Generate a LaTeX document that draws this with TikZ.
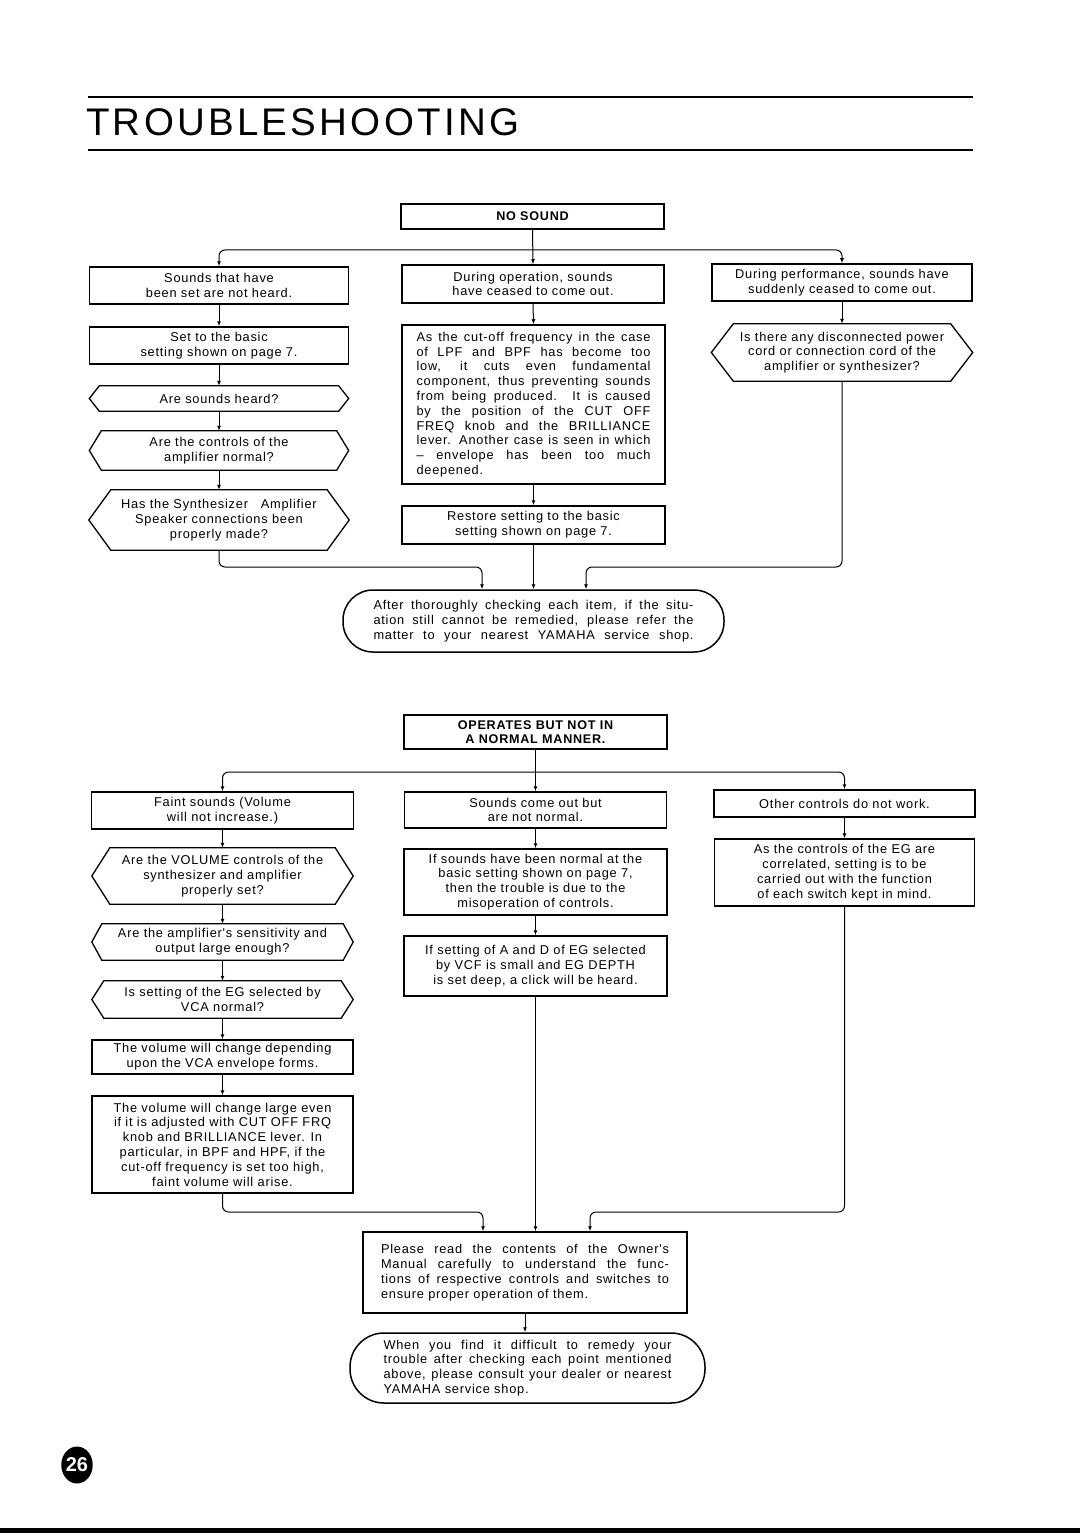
\documentclass[tikz,border=0pt]{standalone}
\usepackage{fontspec}
\setmainfont{Liberation Sans}
\newfontfamily\txtfont[LetterSpace=6]{Liberation Sans}
\newfontfamily\ttlfont[LetterSpace=8.5]{Liberation Sans}
\usetikzlibrary{arrows.meta,shapes.geometric}
\newcommand\jl[2]{\makebox[#1pt][s]{#2}}
\newcommand\hexdraw[2]{\draw[hexline] (#1.north west) -- (#1.north east) -- ([xshift=#2pt]#1.east) -- (#1.south east) -- (#1.south west) -- ([xshift=-#2pt]#1.west) -- cycle;}
\tikzset{
  x=1pt, y=-1pt,
  txt/.style={inner sep=0pt, align=center, font=\txtfont\fontsize{12.8}{14.8}\selectfont},
  bx/.style={txt, draw, line width=1.5pt},
  hq/.style={txt},
  hexline/.style={line width=1.3pt, line join=miter},
  conn/.style={line width=1pt, rounded corners=6pt},
  arr/.style={conn, -{Latex[length=5pt,width=4pt]}},
  term/.style={txt, draw, line width=1.5pt, rounded corners=30pt, align=left},
  ttl/.style={inner sep=0pt, font=\txtfont\bfseries\fontsize{12.6}{14}\selectfont, align=center},
}
\begin{document}
\begin{tikzpicture}
\fill[white] (0,0) rectangle (1080,1538);
\useasboundingbox (0,0) rectangle (1080,1538);

% title
\draw[line width=1.2pt] (88,97) -- (973,97);
\draw[line width=1.2pt] (88,150) -- (973,150);
\node[anchor=base west, inner sep=0pt, font=\ttlfont\fontsize{38.5}{40}\selectfont] (title) at (86,136) {TROUBLESHOOTING};

% ---------- NO SOUND ----------
\node[bx, ttl, draw, line width=1.8pt, minimum width=263pt, minimum height=25pt] (ns) at (532.5,216.5) {NO SOUND};
\node[bx, minimum width=259pt, minimum height=37pt] (a1) at (219,285.5) {Sounds that have\\been set are not heard.};
\node[bx, minimum width=262pt, minimum height=38pt] (b1) at (533,284) {During operation, sounds\\have ceased to come out.};
\node[bx, minimum width=260pt, minimum height=37pt] (c1) at (842,282.5) {During performance, sounds have\\suddenly ceased to come out.};
\node[bx, minimum width=259pt, minimum height=37pt] (a2) at (219,345.5) {Set to the basic\\setting shown on page 7.};
\node[hq, minimum width=239pt, minimum height=25pt] (a3) at (219,398.5) {Are sounds heard?};
\hexdraw{a3}{10}
\node[hq, minimum width=235pt, minimum height=39pt] (a4) at (219,450.5) {Are the controls of the\\amplifier normal?};
\hexdraw{a4}{12}
\node[hq, minimum width=216pt, minimum height=60pt] (a5) at (219,520) {Has the Synthesizer\quad Amplifier\\Speaker connections been\\properly made?};
\hexdraw{a5}{22}
\node[bx, align=left, minimum width=263pt, minimum height=159pt] (b2) at (533.5,404.5) {%
\jl{234}{As the cut-off frequency in the case}\\
\jl{234}{of LPF and BPF has become too}\\
\jl{234}{low, it cuts even fundamental}\\
\jl{234}{component, thus preventing sounds}\\
\jl{234}{from being produced. It is caused}\\
\jl{234}{by the position of the CUT OFF}\\
\jl{234}{FREQ knob and the BRILLIANCE}\\
\jl{234}{lever. Another case is seen in which}\\
\jl{234}{\textendash\ envelope has been too much}\\
deepened.};
\node[bx, minimum width=263pt, minimum height=38pt] (b3) at (533.5,525) {Restore setting to the basic\\setting shown on page 7.};
\node[hq, minimum width=217pt, minimum height=57pt] (c2) at (842,352.5) {Is there any disconnected power\\cord or connection cord of the\\amplifier or synthesizer?};
\hexdraw{c2}{22}
\node[term, minimum width=381pt, minimum height=62pt] (t1) at (533.5,621) {%
\jl{320}{After thoroughly checking each item, if the situ-}\\
\jl{320}{ation still cannot be remedied, please refer the}\\
\jl{320}{matter to your nearest YAMAHA service shop.}};

\coordinate (j1) at (532.5,250);
\draw[arr] (ns.south) -- (b1.north);
\draw[arr] (j1) -| (a1.north);
\draw[arr] (j1) -| (c1.north);
\draw[arr] (a1.south) -- (a2.north);
\draw[arr] (a2.south) -- (a3.north);
\draw[arr] (a3.south) -- (a4.north);
\draw[arr] (a4.south) -- (a5.north);
\draw[arr] (b1.south) -- (b2.north);
\draw[arr] (b2.south) -- (b3.north);
\draw[arr] (c1.south) -- (c2.north);
\coordinate (m1) at (482,567);
\coordinate (m2) at (586,567);
\draw[arr] (a5.south) |- (m1) -- (t1.north -| m1);
\draw[arr] (b3.south) -- (t1.north -| b3.south);
\draw[arr] (c2.south) |- (m2) -- (t1.north -| m2);

% ---------- OPERATES BUT NOT NORMAL ----------
\node[bx, ttl, draw, line width=1.8pt, minimum width=263pt, minimum height=34pt] (op) at (535.5,732) {OPERATES BUT NOT IN\\A NORMAL MANNER.};
\node[bx, minimum width=262pt, minimum height=37pt] (d1) at (222.5,810.5) {Faint sounds (Volume\\will not increase.)};
\node[bx, minimum width=262pt, minimum height=36pt] (e1) at (535.5,810) {Sounds come out but\\are not normal.};
\node[bx, minimum width=261pt, minimum height=27pt] (f1) at (844.5,803.5) {Other controls do not work.};
\node[hq, minimum width=225pt, minimum height=56pt] (d2) at (222.5,876) {Are the VOLUME controls of the\\synthesizer and amplifier\\properly set?};
\hexdraw{d2}{18}
\node[hq, minimum width=241pt, minimum height=36pt] (d3) at (222.5,942) {Are the amplifier's sensitivity and\\output large enough?};
\hexdraw{d3}{10}
\node[hq, minimum width=237pt, minimum height=37pt] (d4) at (222.5,999.5) {Is setting of the EG selected by\\VCA normal?};
\hexdraw{d4}{12}
\node[bx, minimum width=261pt, minimum height=34pt] (d5) at (222.5,1057) {The volume will change depending\\upon the VCA envelope forms.};
\node[bx, minimum width=261pt, minimum height=97pt] (d6) at (222.5,1144.5) {The volume will change large even\\if it is adjusted with CUT OFF FRQ\\knob and BRILLIANCE lever. In\\particular, in BPF and HPF, if the\\cut-off frequency is set too high,\\faint volume will arise.};
\node[bx, minimum width=263pt, minimum height=66pt] (e2) at (535.5,882) {If sounds have been normal at the\\basic setting shown on page 7,\\then the trouble is due to the\\misoperation of controls.};
\node[bx, minimum width=263pt, minimum height=60pt] (e3) at (535.5,966) {If setting of A and D of EG selected\\by VCF is small and EG DEPTH\\is set deep, a click will be heard.};
\node[bx, minimum width=260pt, minimum height=67pt] (f2) at (844.5,872.5) {As the controls of the EG are\\correlated, setting is to be\\carried out with the function\\of each switch kept in mind.};
\node[bx, align=left, minimum width=324pt, minimum height=81pt] (g1) at (525,1272.5) {%
\jl{288}{Please read the contents of the Owner's}\\
\jl{288}{Manual carefully to understand the func-}\\
\jl{288}{tions of respective controls and switches to}\\
ensure proper operation of them.};
\node[term, minimum width=355pt, minimum height=70pt, rounded corners=34pt] (t2) at (527.5,1368) {%
\jl{288}{When you find it difficult to remedy your}\\
\jl{288}{trouble after checking each point mentioned}\\
\jl{288}{above, please consult your dealer or nearest}\\
YAMAHA service shop.};

\coordinate (j2) at (535.5,772);
\draw[arr] (op.south) -- (e1.north);
\draw[arr] (j2) -| (d1.north);
\draw[arr] (j2) -| (f1.north);
\draw[arr] (d1.south) -- (d2.north);
\draw[arr] (d2.south) -- (d3.north);
\draw[arr] (d3.south) -- (d4.north);
\draw[arr] (d4.south) -- (d5.north);
\draw[arr] (d5.south) -- (d6.north);
\draw[arr] (e1.south) -- (e2.north);
\draw[arr] (e2.south) -- (e3.north);
\draw[arr] (f1.south) -- (f2.north);
\coordinate (m3) at (483,1212);
\coordinate (m4) at (590,1212);
\draw[arr] (d6.south) |- (m3) -- (g1.north -| m3);
\draw[arr] (e3.south) -- (g1.north -| e3.south);
\draw[arr] (f2.south) |- (m4) -- (g1.north -| m4);
\draw[arr] (g1.south) -- (t2.north -| g1.south);

% page number
\node[fill=black, ellipse, minimum width=30pt, minimum height=37pt, inner sep=0pt, text=white, font=\bfseries\fontsize{20}{20}\selectfont] (pg) at (77,1465) {26};
\fill[black] (0,1527.5) rectangle (1080,1533);
\end{tikzpicture}
\end{document}
